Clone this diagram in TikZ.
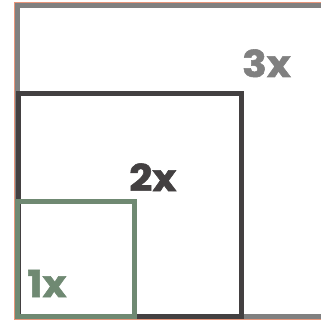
\documentclass[tikz,border=0pt]{standalone}
\usepackage{fontspec}
\setmainfont{Poppins}[UprightFont=* Bold,FakeBold=1.5,FakeStretch=1.1]
\definecolor{cgray}{HTML}{808080}
\definecolor{cdark}{HTML}{434041}
\definecolor{cgreen}{HTML}{6F8972}
\definecolor{corange}{HTML}{E8957A}
\begin{document}
\begin{tikzpicture}[x=1pt,y=-1pt,
  sq/.style={line width=5pt,miter limit=10},
  lbl/.style={anchor=base west,inner sep=0pt,font=\fontsize{37}{37}\selectfont}]
\useasboundingbox (0,0) rectangle (321,321);
\fill[white] (0,0) rectangle (321,321);
\draw[corange,line width=0.8pt] (14.6,2.9) rectangle (340,319.2);
\draw[sq,cgray] (17.5,5.8) rectangle (340,316.5);
\draw[sq,cdark] (18,93) rectangle (241.5,316.5);
\draw[sq,cgreen] (17.5,201.5) rectangle (134.5,316);
\node[lbl,text=cgray] (l3) at (242,77) {3x};
\node[lbl,text=cdark] (l2) at (129,191) {2x};
\node[lbl,text=cgreen] (l1) at (27,297) {1x};
\end{tikzpicture}
\end{document}
